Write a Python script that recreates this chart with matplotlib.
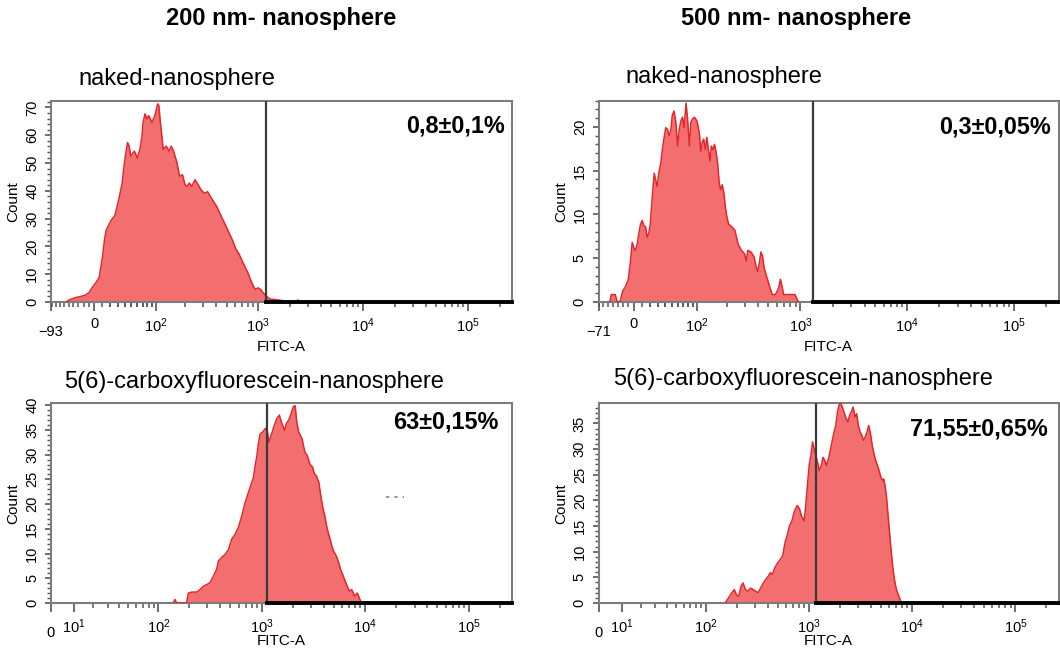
import numpy as np
import matplotlib.pyplot as plt
from matplotlib.ticker import FixedLocator, MultipleLocator, NullFormatter

plt.rcParams['font.family'] = ['Liberation Sans', 'DejaVu Sans']
plt.rcParams['mathtext.fontset'] = 'custom'
plt.rcParams['mathtext.rm'] = 'Liberation Sans'
plt.rcParams['mathtext.default'] = 'regular'

# ---------------- data ----------------
# FITC-A values and event counts along the outline of each histogram

naked200_fitc = [-55, -51, -37, -17, -10, -4, 2, 6, 10, 12.5, 14.6, 21, 26, 31, 36, 38, 41, 44,
                 46.5, 49, 55, 60, 65, 69, 71, 75, 79, 82.5, 90, 97, 104, 107, 111, 115, 119,
                 128, 137, 144, 152, 163, 175, 187, 198, 208, 218, 231, 248, 266, 285, 306, 328,
                 351, 376, 403, 433, 464, 498, 534, 572, 613, 658, 705, 756, 811, 858, 901, 945,
                 1000, 1061, 1116, 1200, 1291, 1442, 1668, 1795, 2250, 2400, 2550]
naked200_count = [0, 0.6, 1.5, 2.4, 3.3, 5.1, 6.9, 8.7, 16.0, 22.1, 25.8, 29.4, 31.2, 36.7, 42.8,
                  47.6, 53.1, 57.4, 56.1, 52.5, 54.3, 51.9, 54.9, 59.8, 64.6, 67.7, 65.9, 67.1,
                  64.6, 67.1, 71.3, 70.7, 64.6, 59.8, 54.9, 56.1, 54.3, 56.1, 54.3, 50.7, 45.2,
                  45.8, 42.2, 41.6, 42.8, 41.6, 44.0, 42.2, 40.3, 39.1, 39.7, 37.9, 36.1, 34.3,
                  31.8, 29.4, 27.0, 24.5, 22.1, 19.1, 17.3, 14.8, 12.4, 10.0, 7.5, 5.7, 4.5, 5.1,
                  4.5, 3.3, 2.1, 1.1, 0.9, 0.6, 0.1, 0, 0.7, 0]

naked500_fitc = [-46, -43, -35, -31, -25, -21, -15, -10, -6, -3, 0, 2, 4, 6, 8, 10, 12, 14, 16, 18,
                 20, 22.5, 25, 27, 29, 31, 34, 36, 39, 41, 43.5, 46, 49, 51, 54, 57, 60, 63, 66,
                 69, 72, 76, 79, 83, 86, 90, 94, 100, 103, 107, 110, 114, 118, 123, 127, 132, 137,
                 141, 147, 152, 157, 163, 169, 175, 181, 188, 194, 201, 209, 224, 240, 258, 277,
                 297, 308, 319, 343, 367, 381, 395, 409, 424, 439, 455, 489, 524, 543, 582, 625,
                 648, 671, 695, 800, 889, 955]
naked500_count = [0, 0.85, 0.85, 0, 0.1, 1.2, 1.8, 2.6, 4.7, 6.8, 6.2, 5.9, 6.6, 7.8, 8.9, 9.3,
                  8.7, 8.6, 7.4, 7.8, 8.9, 12.0, 14.7, 13.9, 13.2, 14.7, 15.9, 17.4, 19.0, 19.9,
                  19.7, 19.0, 19.7, 21.3, 21.8, 20.5, 17.8, 19.7, 20.7, 21.1, 19.9, 22.7, 20.9,
                  17.8, 20.5, 20.9, 21.1, 20.7, 20.1, 19.0, 17.2, 18.2, 18.6, 17.4, 18.8, 17.4,
                  16.1, 17.8, 17.4, 18.0, 17.2, 15.9, 13.6, 12.8, 13.4, 12.4, 10.9, 9.7, 8.9, 8.6,
                  8.2, 6.6, 5.9, 5.5, 4.7, 5.9, 5.7, 5.1, 4.1, 3.5, 4.3, 5.7, 5.3, 3.9, 2.6, 1.4,
                  0.85, 0.85, 1.6, 2.6, 1.8, 0.85, 0.85, 0.85, 0]

cf200_fitc = [140, 145, 151, 188, 196, 211, 236, 254, 274, 295, 317, 342, 368, 383, 412, 444, 479,
              515, 555, 598, 644, 694, 748, 805, 836, 868, 901, 936, 971, 1031, 1088, 1132, 1178,
              1222, 1271, 1324, 1406, 1486, 1570, 1671, 1734, 1833, 1950, 2028, 2109, 2188, 2280,
              2371, 2460, 2619, 2767, 2924, 3105, 3236, 3365, 3573, 3776, 3926, 4083, 4246, 4406,
              4588, 4775, 4955, 5275, 5567, 5794, 6166, 6505, 7025, 7430, 7907, 8420, 8875, 9240]
cf200_count = [0, 0.7, 0, 0, 2.0, 2.2, 2.2, 2.7, 3.4, 3.7, 4.1, 5.4, 6.8, 8.5, 9.2, 9.8, 10.8,
               12.9, 13.9, 15.3, 17.6, 20.3, 22.4, 24.4, 25.4, 27.8, 29.8, 32.5, 34.2, 34.6, 35.3,
               34.9, 32.5, 33.6, 34.6, 35.9, 37.3, 38.0, 36.3, 34.9, 36.3, 37.0, 38.6, 39.7, 39.9,
               36.6, 34.6, 33.9, 33.2, 30.5, 29.8, 28.1, 27.5, 26.1, 25.8, 24.4, 21.0, 19.0, 17.6,
               15.6, 14.2, 12.9, 11.5, 10.5, 9.5, 8.1, 6.8, 5.4, 4.1, 2.4, 2.7, 1.4, 2.0, 0.8, 0]

cf500_fitc = [155, 167, 180, 190, 199, 210, 221, 231, 244, 257, 273, 290, 306, 323, 342, 364, 384,
              405, 424, 447, 470, 500, 531, 560, 590, 617, 651, 687, 730, 774, 817, 848, 901, 929,
              971, 1009, 1050, 1089, 1125, 1168, 1215, 1263, 1323, 1373, 1429, 1486, 1567, 1629,
              1691, 1758, 1828, 1900, 1976, 2054, 2133, 2218, 2306, 2395, 2490, 2589, 2691, 2797,
              2908, 3021, 3141, 3266, 3392, 3526, 3666, 3807, 3959, 4117, 4276, 4446, 4622, 4801,
              4992, 5190, 5309, 5470, 5645, 5830, 6057, 6297, 6546, 6796, 7067, 7346, 7628, 7930]
cf500_count = [0, 1.0, 2.0, 2.6, 1.6, 1.3, 3.3, 3.9, 2.6, 2.3, 2.9, 2.6, 2.3, 2.0, 2.9, 3.9, 4.6,
               5.2, 5.9, 5.6, 6.9, 7.8, 8.5, 9.2, 11.8, 13.1, 15.0, 16.0, 18.0, 19.0, 18.3, 17.0,
               16.0, 18.3, 22.9, 26.8, 28.8, 31.4, 30.1, 28.8, 27.5, 25.8, 26.8, 28.4, 27.8, 26.8,
               28.4, 30.1, 31.7, 33.3, 34.6, 37.3, 38.7, 38.9, 37.9, 36.9, 35.9, 35.3, 36.6, 37.3,
               38.2, 36.3, 36.9, 34.6, 33.3, 32.7, 31.7, 32.4, 33.3, 34.6, 33.0, 30.7, 29.1, 27.8,
               26.8, 25.8, 24.5, 23.9, 24.2, 22.9, 20.9, 17.6, 13.7, 9.8, 6.5, 4.2, 2.6, 1.6, 0.8, 0]

col_titles = ['200 nm- nanosphere', '500 nm- nanosphere']
row_titles = ['naked-nanosphere', '5(6)-carboxyfluorescein-nanosphere']
percents = ['0,8\u00b10,1%', '0,3\u00b10,05%', '63\u00b10,15%', '71,55\u00b10,65%']
gates = [1190, 1300, 1140, 1180]
x_low = [-93, -71, 0, 0]
y_max = [72.5, 23.0, 40.35, 38.9]
y_major = [10, 5, 5, 5]
y_minor = [2, 1, 1, 1]
x_max = 262144

FILL = '#f36f6f'
EDGE = '#e4262b'
LN10 = np.log(10)


def biex(c_pos, c_neg):
    # arcsinh display, like the cytometer's biexponential axis
    def fwd(x):
        x = np.asarray(x, dtype=float)
        c = np.where(x < 0, c_neg, c_pos)
        return np.arcsinh(x / c) / LN10

    def inv(y):
        y = np.asarray(y, dtype=float)
        c = np.where(y < 0, c_neg, c_pos)
        return c * np.sinh(y * LN10)
    return fwd, inv


fig = plt.figure(figsize=(10.6, 6.52), dpi=100)

rects = [[0.0481, 0.5368, 0.4349, 0.3090],
         [0.5647, 0.5368, 0.4340, 0.3090],
         [0.0481, 0.0752, 0.4349, 0.3060],
         [0.5647, 0.0752, 0.4340, 0.3060]]
series = [(naked200_fitc, naked200_count), (naked500_fitc, naked500_count),
          (cf200_fitc, cf200_count), (cf500_fitc, cf500_count)]
pct_pos = [(0.985, 0.873), (0.983, 0.868), (0.971, 0.905), (0.976, 0.872)]

for i, (fitc, count) in enumerate(series):
    ax = fig.add_axes(rects[i])
    top = i < 2
    if top:
        ax.set_xscale('function', functions=biex(55, 85))
    else:
        ax.set_xscale('function', functions=biex(18.5, 18.5))

    ax.fill_between(fitc, count, 0, color=FILL, lw=0, zorder=2)
    ax.plot(fitc, count, color=EDGE, lw=1.1, zorder=3)

    # gate
    ax.axvline(gates[i], color='#3a3a3a', lw=1.6, zorder=4)
    ax.plot([gates[i], x_max], [0, 0], color='black', lw=2.8, zorder=5, clip_on=False)

    ax.set_xlim(x_low[i], x_max)
    ax.set_ylim(0, y_max[i])

    # x ticks
    if top:
        majors = [x_low[i], 0, 1e2, 1e3, 1e4, 1e5]
        labels = ['\u2212%d' % abs(x_low[i]), '0', '$10^2$', '$10^3$', '$10^4$', '$10^5$']
        minors = list(range(-90, 0, 10)) + list(range(10, 100, 10))
    else:
        majors = [0, 1e1, 1e2, 1e3, 1e4, 1e5]
        labels = ['0', '$10^1$', '$10^2$', '$10^3$', '$10^4$', '$10^5$']
        minors = []
    minors += [k * 10 ** e for e in (1, 2, 3, 4) for k in range(2, 10)] + [2e5]
    minors = [m for m in minors if m > x_low[i] and m not in majors]
    ax.xaxis.set_major_locator(FixedLocator(majors))
    ax.xaxis.set_minor_locator(FixedLocator(minors))
    ax.set_xticklabels(labels)
    ax.xaxis.set_minor_formatter(NullFormatter())

    ax.yaxis.set_major_locator(MultipleLocator(y_major[i]))
    ax.yaxis.set_minor_locator(MultipleLocator(y_minor[i]))

    ax.tick_params(axis='x', which='major', length=6.5, width=1.2, color='#555555',
                   labelsize=10.5, pad=4)
    ax.tick_params(axis='x', which='minor', length=3.8, width=1.1, color='#555555')
    ax.tick_params(axis='y', which='major', length=4.5, width=1.2, color='#555555',
                   labelsize=10.5, pad=4, labelrotation=90)
    ax.tick_params(axis='y', which='minor', length=3, width=1.0, color='#555555')
    for lab in ax.get_yticklabels():
        lab.set_va('center')

    # edge label of x axis sits a little lower
    ax.xaxis.get_major_ticks()[0].label1.set_y(-0.04)

    for sp in ax.spines.values():
        sp.set_color('#7d7d7d')
        sp.set_linewidth(1.5)

    ax.set_xlabel('FITC-A', fontsize=11)
    ax.xaxis.set_label_coords(0.5, -0.187 if top else -0.158)
    ax.set_ylabel('Count', fontsize=11)
    ax.yaxis.set_label_coords(-0.067, 0.5)

    ax.text(pct_pos[i][0], pct_pos[i][1], percents[i], transform=ax.transAxes,
            ha='right', va='center', fontsize=16.8, fontweight='bold', zorder=6)

    if i == 2:
        ax.plot([16000, 23500], [21.5, 21.5], color='#888888', lw=1.2, ls=(0, (2, 3)))

fig.text(0.2656, 0.972, col_titles[0], ha='center', va='center', fontsize=17, fontweight='bold')
fig.text(0.751, 0.972, col_titles[1], ha='center', va='center', fontsize=17, fontweight='bold')
fig.text(78 / 1060, 1 - 78.6 / 652, row_titles[0], ha='left', va='center', fontsize=17)
fig.text(625 / 1060, 1 - 77 / 652, row_titles[0], ha='left', va='center', fontsize=17)
fig.text(64 / 1060, 1 - 382 / 652, row_titles[1], ha='left', va='center', fontsize=17)
fig.text(613 / 1060, 1 - 378.6 / 652, row_titles[1], ha='left', va='center', fontsize=17)

fig.savefig('out.png', dpi=100)
